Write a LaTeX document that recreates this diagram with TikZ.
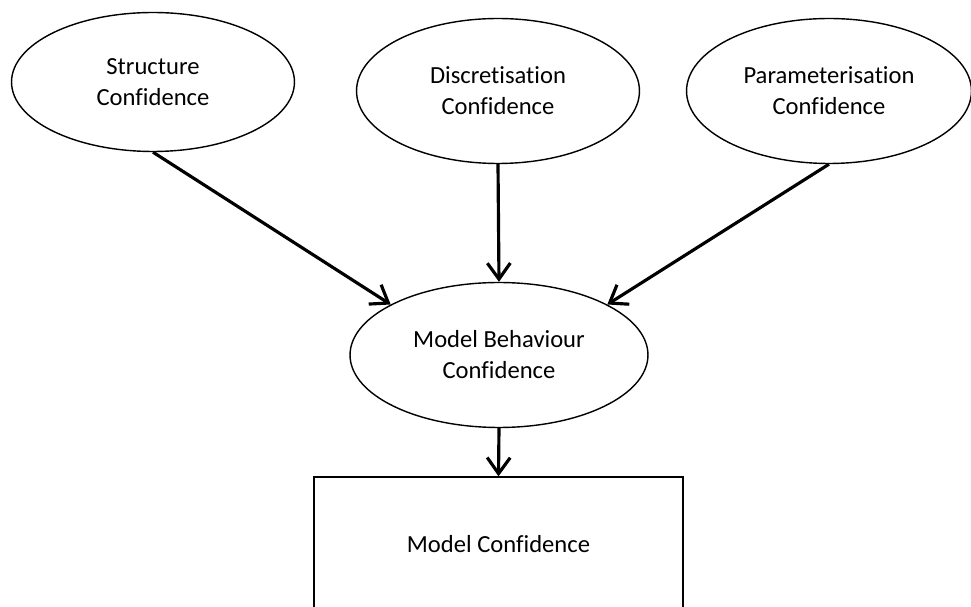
\documentclass[tikz,border=0pt]{standalone}
\usepackage{fontspec}
\setmainfont{Carlito}[Ligatures=NoCommon]
\usepackage{tikz}
\usetikzlibrary{arrows.meta}
\usetikzlibrary{shapes.geometric}

\tikzset{
    conf/.style={ellipse, draw, line width=0.8pt, inner sep=0pt, align=center,
        minimum width=5.66cm, minimum height=2.9cm},
    link/.style={line width=1.8pt, -{Straight Barb[length=0.32cm, width=0.46cm]}}
}

\begin{document}
\begin{tikzpicture}[x=0.02cm, y=-0.02cm, font=\fontsize{14}{17.6}\selectfont]
    % Cadre
    \useasboundingbox (0, 0) rectangle (971, 607);

    % Confiances de base
    \node[conf, minimum height=2.78cm] (struct) at (153, 82) {Structure\\Confidence};
    \node[conf] (discr) at (498, 91) {Discretisation\\Confidence};
    \node[conf, minimum width=5.7cm] (param) at (829, 91) {Parameterisation\\Confidence};

    % Comportement du modele
    \node[conf, minimum width=5.96cm] (behav) at (499, 355) {Model Behaviour\\Confidence};

    % Confiance du modele
    \node[draw, line width=0.8pt, minimum width=7.38cm, minimum height=2.68cm] (model) at (498.5, 544) {Model Confidence};

    % Fleches
    \draw[link] (struct.south) -- (behav.155);
    \draw[link] (discr.south) -- (behav.north);
    \draw[link] (param.south) -- (behav.25);
    \draw[link] (behav.south) -- (model.north);
\end{tikzpicture}
\end{document}
